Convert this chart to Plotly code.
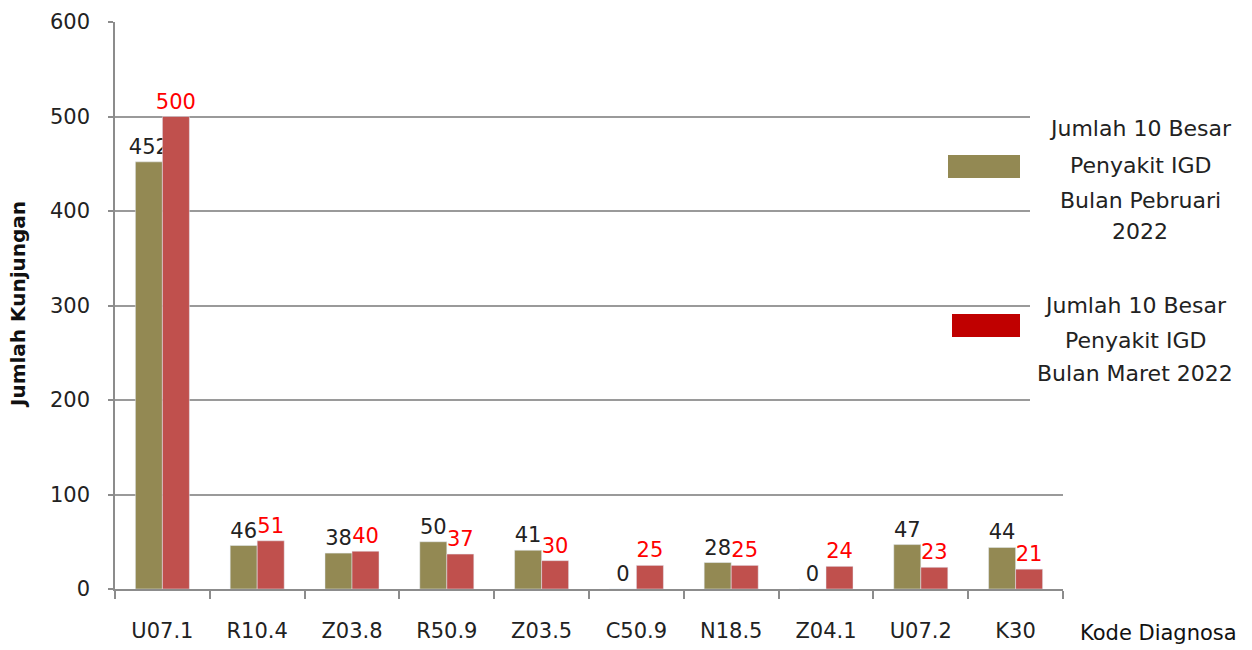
import plotly.graph_objects as go

categories = ["U07.1", "R10.4", "Z03.8", "R50.9", "Z03.5", "C50.9", "N18.5", "Z04.1", "U07.2", "K30"]
feb_values = [452, 46, 38, 50, 41, 0, 28, 0, 47, 44]
mar_values = [500, 51, 40, 37, 30, 25, 25, 24, 23, 21]
feb_name = "Jumlah 10 Besar Penyakit IGD Bulan Pebruari 2022"
mar_name = "Jumlah 10 Besar Penyakit IGD Bulan Maret 2022"
y_ticks = [0, 100, 200, 300, 400, 500, 600]

FONT = "DejaVu Sans"
OLIVE = "#938953"
RED = "#C0504D"
LEG_RED = "#C00000"

W, H = 1252, 650
L, R, T, B = 115, 189, 22, 61
PW, PH = W - L - R, H - T - B

def px(x):
    return (x - L) / PW

def py(y):
    return (H - B - y) / PH

fig = go.Figure()
fig.add_trace(go.Bar(x=categories, y=feb_values, name=feb_name, marker_color=OLIVE,
                     text=feb_values, textposition="outside", cliponaxis=False,
                     constraintext="none",
                     textfont=dict(color="#222222", size=21, family=FONT)))
fig.add_trace(go.Bar(x=categories, y=mar_values, name=mar_name, marker_color=RED,
                     text=mar_values, textposition="outside", cliponaxis=False,
                     constraintext="none",
                     textfont=dict(color="#FF0000", size=21, family=FONT)))

fig.update_layout(
    width=W, height=H,
    margin=dict(l=L, r=R, t=T, b=B, autoexpand=False),
    plot_bgcolor="white", paper_bgcolor="white",
    barmode="group", bargap=0.43, bargroupgap=0,
    showlegend=False,
    font=dict(family=FONT, size=21, color="#222222"),
)
fig.update_xaxes(
    automargin=False,
    showline=True, linecolor="#8c8c8c", linewidth=1.5,
    ticks="outside", tickson="boundaries", ticklen=8, tickcolor="#8c8c8c", tickwidth=1.5,
    tickfont=dict(size=21, family=FONT, color="#222222"),
    ticklabelstandoff=22,
    showgrid=False,
)
fig.update_yaxes(
    automargin=False,
    range=[0, 600], tickvals=y_ticks,
    showline=True, linecolor="#8c8c8c", linewidth=1.5,
    ticks="outside", ticklen=5, tickcolor="#8c8c8c", tickwidth=1.5,
    showgrid=True, gridcolor="#9a9a9a", gridwidth=1.5,
    tickfont=dict(size=21, family=FONT, color="#222222"),
    ticklabelstandoff=14,
    zeroline=False,
)

# white box behind legend covering gridlines
fig.add_shape(type="rect", xref="paper", yref="paper",
              x0=px(1030), x1=px(1070), y0=py(405), y1=py(108),
              fillcolor="white", line=dict(width=0), layer="above")
# legend swatches
fig.add_shape(type="rect", xref="paper", yref="paper",
              x0=px(948), x1=px(1020), y0=py(178), y1=py(155),
              fillcolor=OLIVE, line=dict(width=0), layer="above")
fig.add_shape(type="rect", xref="paper", yref="paper",
              x0=px(952), x1=px(1020), y0=py(337), y1=py(314),
              fillcolor=LEG_RED, line=dict(width=0), layer="above")

leg1 = ["Jumlah 10 Besar", "Penyakit IGD", "Bulan Pebruari", "2022"]
leg1_y = [128, 165, 200, 231]
leg2 = ["Jumlah 10 Besar", "Penyakit IGD", "Bulan Maret 2022"]
leg2_y = [305, 340, 373]
for t, y in zip(leg1, leg1_y):
    fig.add_annotation(text=t, xref="paper", yref="paper", x=px(1140), y=py(y),
                       showarrow=False, xanchor="center", yanchor="middle",
                       font=dict(size=22, family=FONT, color="#222222"))
for t, y in zip(leg2, leg2_y):
    fig.add_annotation(text=t, xref="paper", yref="paper", x=px(1135), y=py(y),
                       showarrow=False, xanchor="center", yanchor="middle",
                       font=dict(size=22, family=FONT, color="#222222"))

# axis titles
fig.add_annotation(text="<b>Jumlah Kunjungan</b>", xref="paper", yref="paper",
                   x=px(18), y=py(305), textangle=-90, showarrow=False,
                   xanchor="center", yanchor="middle",
                   font=dict(size=20, family=FONT, color="#111111"))
fig.add_annotation(text="Kode Diagnosa", xref="paper", yref="paper",
                   x=px(1158), y=py(633), showarrow=False,
                   xanchor="center", yanchor="middle",
                   font=dict(size=21, family=FONT, color="#111111"))

fig.write_html("out.html", config={"displayModeBar": False},
               post_script="document.body.style.margin='0';document.body.style.overflow='hidden';")
